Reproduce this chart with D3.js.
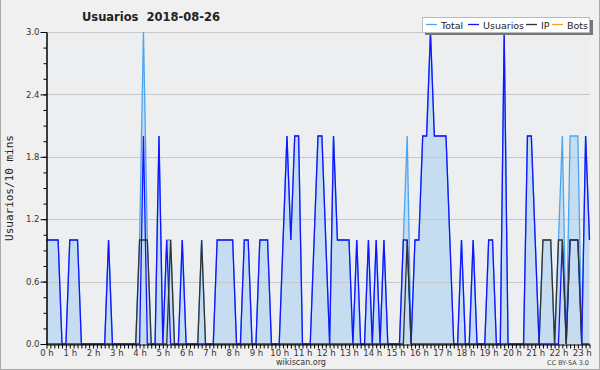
<!DOCTYPE html>
<html lang="es">
<head>
<meta charset="utf-8">
<title>Usuarios 2018-08-26</title>
<script src="https://d3js.org/d3.v7.min.js"></script>
<style>
  body { margin: 0; background: #f0f0f0; }
  svg { display: block; font-family: 'DejaVu Sans', sans-serif; }
</style>
</head>
<body>
<div id="chart"></div>
<script>
// one value every 10 minutes, from 0:00
var usuarios = [1,1,1,1,0,0,1,1,1,0, 0,0,0,0,0,0,1,0,0,0, 0,0,0,0,0,2,0,0,0,2,
  0,1,0,0,0,1,0,0,0,0, 0,0,0,0,1,1,1,1,1,0, 0,1,1,0,0,1,1,1,0,0,
  0,1,2,1,2,2,0,0,0,1, 2,2,1,0,2,1,1,1,1,0, 1,0,0,1,0,1,0,1,0,0,
  0,0,1,1,0,1,1,2,2,3, 2,2,2,2,1,0,0,1,0,0, 1,0,0,0,1,1,0,0,3,0,
  0,0,0,0,2,2,1,0,0,0, 0,0,0,1,0,1,1,1,0,2, 1];
var ip = [0,0,0,0,0,0,0,0,0,0, 0,0,0,0,0,0,0,0,0,0, 0,0,0,0,1,1,1,0,0,0,
  0,0,1,0,0,0,0,0,0,0, 1,0,0,0,0,0,0,0,0,0, 0,0,0,0,0,0,0,0,0,0,
  0,0,0,0,0,0,0,0,0,0, 0,0,0,0,0,0,0,0,0,0, 0,0,0,0,0,0,0,0,0,0,
  0,0,0,1,0,0,0,0,0,0, 0,0,0,0,0,0,0,0,0,0, 0,0,0,0,0,0,0,0,0,0,
  0,0,0,0,0,0,0,0,1,1, 1,0,1,1,0,1,1,1,0,0, 0];
var total = [1,1,1,1,0,0,1,1,1,0, 0,0,0,0,0,0,1,0,0,0, 0,0,0,0,1,3,1,0,0,2,
  0,1,1,0,0,1,0,0,0,0, 1,0,0,0,1,1,1,1,1,0, 0,1,1,0,0,1,1,1,0,0,
  0,1,2,1,2,2,0,0,0,1, 2,2,1,0,2,1,1,1,1,0, 1,0,0,1,0,1,0,1,0,0,
  0,0,1,2,0,1,1,2,2,3, 2,2,2,2,1,0,0,1,0,0, 1,0,0,0,1,1,0,0,3,0,
  0,0,0,0,2,2,1,0,1,1, 1,0,1,2,0,2,2,2,0,2, 1];
var hourLabels = ["0 h","1 h","2 h","3 h","4 h","5 h","6 h","7 h","8 h","9 h","10 h","11 h",
  "12 h","13 h","14 h","15 h","16 h","17 h","18 h","19 h","20 h","21 h","22 h","23 h"];
var yTicks = [0, 0.6, 1.2, 1.8, 2.4, 3.0];
var legendNames = ["Total", "Usuarios", "IP", "Bots"];
var legendColors = ["#4aa6f2", "#1414ff", "#333333", "#ffa01e"];

var W = 600, H = 370;
var svg = d3.select("#chart").append("svg").attr("width", W).attr("height", H);

svg.append("rect").attr("width", W).attr("height", H).attr("fill", "#f0f0f0");
// frame
svg.append("path").attr("d", "M0.5,0 V369.5 H599.5 V0")
  .attr("fill", "none").attr("stroke", "#a8a8a8");

var x = d3.scaleLinear().domain([0, usuarios.length - 1]).range([46.5, 589.5]);
var y = d3.scaleLinear().domain([0, 3]).range([344, 32]);

svg.append("rect").attr("x", 46.5).attr("y", 32).attr("width", 543).attr("height", 312)
  .attr("fill", "#eceef0");

// area under total
svg.append("path")
  .datum(total)
  .attr("fill", "#c6ddf1")
  .attr("d", d3.area().x(function(d, i) { return x(i); }).y0(y(0)).y1(function(d) { return y(d); }));

// grid
svg.selectAll(".grid").data(yTicks.slice(1)).enter().append("line")
  .attr("x1", 46.5).attr("x2", 589.5)
  .attr("y1", function(d) { return Math.round(y(d)) + 0.5; })
  .attr("y2", function(d) { return Math.round(y(d)) + 0.5; })
  .attr("stroke", "#c8c8c8");

var line = d3.line().x(function(d, i) { return x(i); }).y(function(d) { return y(d); });
[[total, legendColors[0]], [usuarios, legendColors[1]], [ip, legendColors[2]]].forEach(function(s) {
  svg.append("path").datum(s[0]).attr("fill", "none")
    .attr("stroke", s[1]).attr("stroke-width", 1.3).attr("d", line);
});

// y axis
var yMinor = svg.append("g").attr("transform", "translate(46.5,0)")
  .call(d3.axisLeft(y).tickValues(d3.range(0, 3.01, 0.15)).tickSize(3).tickSizeOuter(0).tickFormat(""));
var yAxis = svg.append("g").attr("transform", "translate(46.5,0)")
  .call(d3.axisLeft(y).tickValues(yTicks).tickSize(6).tickSizeOuter(0).tickPadding(1)
    .tickFormat(d3.format(".1f")));
yAxis.selectAll("text").attr("font-size", 8.5).attr("font-family", "DejaVu Sans").attr("fill", "#333");

// x axis
var xAxis = svg.append("g").attr("transform", "translate(0,344.5)")
  .call(d3.axisBottom(x).tickValues(d3.range(0, usuarios.length)).tickSize(4).tickSizeOuter(0)
    .tickPadding(1)
    .tickFormat(function(i) { return i % 6 === 0 ? hourLabels[i / 6] : ""; }));
xAxis.selectAll("text").attr("font-size", 8.5).attr("font-family", "DejaVu Sans").attr("fill", "#333");
[yMinor, yAxis, xAxis].forEach(function(g) {
  g.selectAll("path,line").attr("stroke", "#000");
});

// title
svg.append("text").attr("x", 151).attr("y", 21).attr("text-anchor", "middle")
  .attr("font-size", 11.5).attr("font-weight", "bold").attr("fill", "#222")
  .attr("xml:space", "preserve").text("Usuarios  2018-08-26");

svg.append("text").attr("transform", "translate(13,188) rotate(-90)")
  .attr("text-anchor", "middle").attr("font-family", "DejaVu Sans Mono")
  .attr("font-size", 11).attr("fill", "#222").text("Usuarios/10 mins");

svg.append("text").attr("x", 301).attr("y", 365).attr("text-anchor", "middle")
  .attr("font-size", 8).attr("fill", "#333").text("wikiscan.org");
svg.append("text").attr("x", 589).attr("y", 365).attr("text-anchor", "end")
  .attr("font-size", 6.5).attr("fill", "#444").text("CC BY-SA 3.0");

// legend
var lg = svg.append("g");
lg.append("rect").attr("x", 425).attr("y", 20).attr("width", 168).attr("height", 15).attr("fill", "#777");
lg.append("rect").attr("x", 422.5).attr("y", 17.5).attr("width", 167).attr("height", 15)
  .attr("fill", "#fff").attr("stroke", "#bbb");
var lx = [426, 468, 526, 552];
legendNames.forEach(function(n, i) {
  lg.append("line").attr("x1", lx[i]).attr("x2", lx[i] + 11).attr("y1", 24.5).attr("y2", 24.5)
    .attr("stroke", legendColors[i]).attr("stroke-width", 1.3);
  lg.append("text").attr("x", lx[i] + 15).attr("y", 28.5).attr("font-size", 9.5)
    .attr("fill", "#222").text(n);
});
</script>
</body>
</html>
